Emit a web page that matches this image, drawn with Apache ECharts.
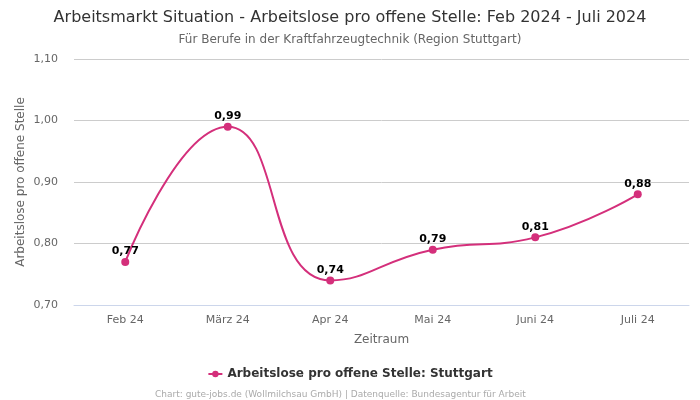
<!DOCTYPE html>
<html>
<head>
<meta charset="utf-8">
<script src="https://cdn.jsdelivr.net/npm/echarts@6/dist/echarts.min.js"></script>
<style>
html, body { margin: 0; padding: 0; background: #fff; }
#chart { width: 700px; height: 400px; }
</style>
</head>
<body>
<div id="chart"></div>
<script>
var months = ['Feb 24', 'März 24', 'Apr 24', 'Mai 24', 'Juni 24', 'Juli 24'];
var stuttgart = [0.77, 0.99, 0.74, 0.79, 0.81, 0.88];
var seriesName = 'Arbeitslose pro offene Stelle: Stuttgart';
var lineColor = '#d42f7b';

function fmt(v) {
    return v.toFixed(2).replace('.', ',');
}

var myChart = echarts.init(document.getElementById('chart'));

var option = {
    textStyle: { fontFamily: 'DejaVu Sans' },
    title: [{
        text: 'Arbeitsmarkt Situation - Arbeitslose pro offene Stelle: Feb 2024 - Juli 2024',
        subtext: 'Für Berufe in der Kraftfahrzeugtechnik (Region Stuttgart)',
        left: 'center',
        top: 5,
        itemGap: 8,
        textStyle: { fontSize: 16, fontWeight: 'normal', color: '#333' },
        subtextStyle: { fontSize: 12, color: '#666' }
    }, {
        text: 'Chart: gute-jobs.de (Wollmilchsau GmbH) | Datenquelle: Bundesagentur für Arbeit',
        left: 150,
        top: 385,
        textStyle: { fontSize: 9, fontWeight: 'normal', color: '#aaa' }
    }],
    legend: {
        bottom: 15,
        left: 'center',
        itemWidth: 14,
        itemHeight: 8,
        textStyle: { fontSize: 12, fontWeight: 'bold', color: '#333' },
        data: [seriesName]
    },
    grid: {
        left: 74,
        right: 11,
        top: 59,
        bottom: 95
    },
    xAxis: {
        type: 'category',
        data: months,
        boundaryGap: true,
        name: 'Zeitraum',
        nameLocation: 'middle',
        nameGap: 29,
        nameTextStyle: { fontSize: 12, color: '#666' },
        axisLine: { lineStyle: { color: '#ccd6eb' } },
        axisTick: { show: false },
        axisLabel: { fontSize: 11, color: '#666', margin: 10 }
    },
    yAxis: {
        type: 'value',
        min: 0.7,
        max: 1.1,
        interval: 0.1,
        name: 'Arbeitslose pro offene Stelle',
        nameLocation: 'middle',
        nameGap: 47,
        nameMoveOverlap: false,
        nameTextStyle: { fontSize: 12, color: '#666' },
        axisLine: { show: false },
        axisTick: { show: false },
        axisLabel: {
            fontSize: 11,
            color: '#666',
            margin: 16,
            formatter: function (v) { return fmt(v); }
        },
        splitLine: { lineStyle: { color: '#cccccc' } }
    },
    series: [{
        name: seriesName,
        type: 'line',
        data: stuttgart,
        smooth: true,
        symbol: 'circle',
        symbolSize: 8,
        itemStyle: { color: lineColor },
        lineStyle: { color: lineColor, width: 2 },
        label: {
            show: true,
            position: 'top',
            distance: 1,
            fontSize: 11,
            fontWeight: 'bold',
            color: '#000',
            formatter: function (p) { return fmt(p.value); }
        }
    }]
};

myChart.setOption(option);
</script>
</body>
</html>
